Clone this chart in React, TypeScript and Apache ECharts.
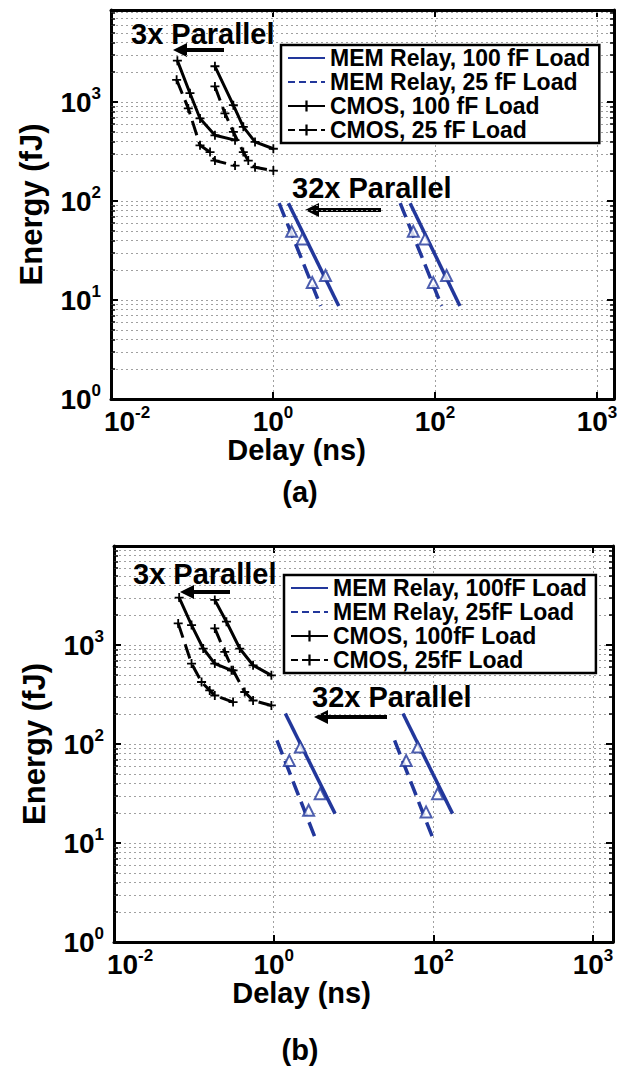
import React, { useEffect, useRef } from 'react';
import * as echarts from 'echarts';

// ---------- axis ticks ----------
const X_TICK_VALUES = [0.01, 1, 100, 10000];
const X_TICK_LABELS = ['-2', '0', '2', '3'];
const Y_TICK_VALUES = [1, 10, 100, 1000];
const Y_TICK_LABELS = ['0', '1', '2', '3'];

// ---------- legend names ----------
const A_NAMES = ['MEM Relay, 100 fF Load', 'MEM Relay, 25 fF Load', 'CMOS, 100 fF Load', 'CMOS, 25 fF Load'];
const B_NAMES = ['MEM Relay, 100fF Load', 'MEM Relay, 25fF Load', 'CMOS, 100fF Load', 'CMOS, 25fF Load'];

// ---------- plot (a) data: [delay ns, energy fJ] ----------
const A_CMOS100_1X = [[0.192, 2296], [0.324, 930], [0.43, 561], [0.6, 395], [1.01, 337]];
const A_CMOS100_3X = [[0.066, 2618], [0.0944, 1227], [0.1256, 682], [0.192, 461], [0.34, 412]];
const A_CMOS25_1X = [[0.192, 1436], [0.255, 767], [0.324, 499], [0.43, 312], [0.495, 256], [0.6, 219], [1.01, 203]];
const A_CMOS25_3X = [[0.0646, 1676], [0.09, 862], [0.1256, 365], [0.167, 312], [0.192, 256], [0.34, 228]];
const A_MEM100_32X = [[1.55, 95], [6.49, 8.7]];
const A_MEM100_1X = [[49.3, 95], [203, 8.7]];
const A_MEM25_32X = [[1.19, 95], [3.87, 8.7]];
const A_MEM25_1X = [[37.2, 95], [121, 8.7]];
const A_MEM_MARKS = [[1.7, 49.4], [2.3, 41.4], [4.45, 17.7], [3.05, 15], [54, 49.4], [75.4, 41.4], [139, 17.7], [95.3, 15]];

// ---------- plot (b) data ----------
const B_CMOS100_1X = [[0.183, 2851], [0.256, 1719], [0.376, 921], [0.552, 624], [0.936, 494]];
const B_CMOS100_3X = [[0.0655, 3013], [0.0936, 1589], [0.131, 921], [0.183, 649], [0.296, 555]];
const B_CMOS25_1X = [[0.183, 1472], [0.244, 853], [0.31, 555], [0.434, 335], [0.552, 275], [0.936, 245]];
const B_CMOS25_3X = [[0.0637, 1653], [0.0936, 649], [0.125, 423], [0.158, 348], [0.183, 309], [0.31, 265]];
const B_MEM100_32X = [[1.4, 203], [5.87, 19.8]];
const B_MEM100_1X = [[41.6, 203], [174, 19.8]];
const B_MEM25_32X = [[1.1, 109], [3.47, 10.2]];
const B_MEM25_1X = [[32.7, 109], [103, 10.2]];
const B_MEM_MARKS = [[2.16, 93], [3.82, 31.5], [1.57, 68], [2.74, 21.4], [63.8, 93], [113, 31.5], [45.7, 68], [81, 20.6]];

const FONT = "'Liberation Sans', Arial, Helvetica, sans-serif";
const BLUE = '#22379b';
const PLUS = 'path://M4,0H6V4H10V6H6V10H4V6H0V4H4Z';
const GRID_COLOR = '#a0a0a0';

const minorY = (max: number) => {
  const out: number[] = [];
  for (let d = 1; d <= 1000; d *= 10) {
    for (let k = 2; k <= 9; k++) {
      if (k * d < max) out.push(k * d);
    }
  }
  return out;
};

const richX = {
  b: { fontSize: 28, fontWeight: 'bold', fontFamily: FONT, color: '#000', lineHeight: 34 },
  b0: { fontSize: 28, fontWeight: 'bold', fontFamily: FONT, color: '#000', lineHeight: 34, padding: [0, 0, 0, 32] },
  s: { fontSize: 17, fontWeight: 'bold', fontFamily: FONT, color: '#000', lineHeight: 20, verticalAlign: 'top' },
};

const matchIdx = (vals: number[], v: number) =>
  vals.findIndex((t) => Math.abs(Math.log10(t) - Math.log10(v)) < 1e-6);

const xFormatter = (v: number) => {
  const i = matchIdx(X_TICK_VALUES, v);
  if (i < 0) return '';
  return `{${i === 0 ? 'b0' : 'b'}|10}{s|${X_TICK_LABELS[i]}}`;
};
const yFormatter = (v: number) => {
  const i = matchIdx(Y_TICK_VALUES, v);
  if (i < 0) return '';
  return `{b|10}{s|${Y_TICK_LABELS[i]}}`;
};

interface PlotCfg {
  left: number; top: number; width: number; height: number;
  xMax: number; yMax: number;
  names: string[];
  cmos100: number[][][]; cmos25: number[][][];
  mem100: number[][][]; mem25: number[][][];
  marks: number[][];
  legend: { left: number; top: number };
  xNameShift: number;
}

const PLOTS: PlotCfg[] = [
  {
    left: 111, top: 10, width: 503, height: 389, xMax: Math.pow(10, 4.21), yMax: 8500,
    names: A_NAMES,
    cmos100: [A_CMOS100_1X, A_CMOS100_3X], cmos25: [A_CMOS25_1X, A_CMOS25_3X],
    mem100: [A_MEM100_32X, A_MEM100_1X], mem25: [A_MEM25_32X, A_MEM25_1X],
    marks: A_MEM_MARKS,
    legend: { left: 281, top: 45 },
    xNameShift: 66,
  },
  {
    left: 114, top: 546, width: 499, height: 396, xMax: Math.pow(10, 4.25), yMax: 10000,
    names: B_NAMES,
    cmos100: [B_CMOS100_1X, B_CMOS100_3X], cmos25: [B_CMOS25_1X, B_CMOS25_3X],
    mem100: [B_MEM100_32X, B_MEM100_1X], mem25: [B_MEM25_32X, B_MEM25_1X],
    marks: B_MEM_MARKS,
    legend: { left: 284, top: 575 },
    xNameShift: 62,
  },
];

function buildOption() {
  const grid: any[] = [];
  const xAxis: any[] = [];
  const yAxis: any[] = [];
  const series: any[] = [];
  const legend: any[] = [];

  PLOTS.forEach((p, pi) => {
    grid.push({ left: p.left, top: p.top, width: p.width, height: p.height, containLabel: false });
    const axisLine = { show: true, lineStyle: { color: '#000', width: 3 } };
    const axisTick = { show: true, inside: true, length: 7, lineStyle: { color: '#000', width: 2 } };
    const split = { show: true, lineStyle: { color: GRID_COLOR, type: [2, 3], width: 1 } };
    xAxis.push({
      type: 'log', logBase: 100, gridIndex: pi, min: 0.01, max: p.xMax, position: 'bottom',
      axisLine, axisTick, splitLine: split,
      axisLabel: { formatter: xFormatter, rich: richX, margin: 5, showMinLabel: true, showMaxLabel: true, hideOverlap: false },
      name: 'Delay (ns)', nameLocation: 'middle', nameGap: 32,
      nameTextStyle: {
        fontSize: 29, fontWeight: 'bold', fontFamily: FONT, color: '#000', verticalAlign: 'top',
        padding: [0, p.xNameShift * 2, 0, 0],
      },
    });
    xAxis.push({
      type: 'log', logBase: 100, gridIndex: pi, min: 0.01, max: p.xMax, position: 'top',
      axisLine, axisTick, splitLine: { show: false }, axisLabel: { show: false },
    });
    yAxis.push({
      type: 'log', logBase: 10, gridIndex: pi, min: 1, max: p.yMax, position: 'left',
      axisLine, axisTick, splitLine: split,
      axisLabel: { formatter: yFormatter, rich: richX, margin: 10, showMinLabel: true, showMaxLabel: true, hideOverlap: false },
      name: 'Energy (fJ)', nameLocation: 'middle', nameGap: 64,
      nameTextStyle: { fontSize: 31, fontWeight: 'bold', fontFamily: FONT, color: '#000' },
    });
    yAxis.push({
      type: 'log', logBase: 10, gridIndex: pi, min: 1, max: p.yMax, position: 'right',
      axisLine, axisTick, splitLine: { show: false }, axisLabel: { show: false },
    });

    const xi = pi * 2;
    const yi = pi * 2;
    const minors = minorY(p.yMax);
    const tickFactor = Math.pow(10, 0.05);
    // minor grid lines
    series.push({
      type: 'line', name: `minor-${pi}`, xAxisIndex: xi, yAxisIndex: yi, data: [[1, 1]],
      showSymbol: false, symbol: 'none', lineStyle: { width: 0 }, z: 1, silent: true,
      markLine: {
        silent: true, symbol: 'none', z: 1, label: { show: false },
        lineStyle: { color: GRID_COLOR, type: [2, 3], width: 1 },
        data: minors.map((v) => ({ yAxis: v })),
      },
    });
    // minor ticks (inside, left and right)
    series.push({
      type: 'line', name: `minortick-${pi}`, xAxisIndex: xi, yAxisIndex: yi, data: [[1, 1]],
      showSymbol: false, symbol: 'none', lineStyle: { width: 0 }, z: 5, silent: true,
      markLine: {
        silent: true, symbol: 'none', z: 5, label: { show: false },
        lineStyle: { color: '#000', type: 'solid', width: 1.5 },
        data: minors.flatMap((v) => [
          [{ coord: [0.01, v] }, { coord: [0.01 * tickFactor, v] }],
          [{ coord: [p.xMax / tickFactor, v] }, { coord: [p.xMax, v] }],
        ]),
      },
    });
    const mk = (name: string, data: number[][], color: string, dashed: boolean, plus: boolean) => ({
      type: 'line', name, data, xAxisIndex: xi, yAxisIndex: yi,
      symbol: plus ? PLUS : 'none', symbolSize: 9, showSymbol: plus,
      lineStyle: { color, width: plus ? 3 : 3.5, type: dashed ? [15, 7] : 'solid' },
      itemStyle: { color },
      z: 3, silent: true,
    });
    p.mem100.forEach((d) => series.push(mk(p.names[0], d, BLUE, false, false)));
    p.mem25.forEach((d) => series.push(mk(p.names[1], d, BLUE, true, false)));
    p.cmos100.forEach((d) => series.push(mk(p.names[2], d, '#000', false, true)));
    p.cmos25.forEach((d) => series.push(mk(p.names[3], d, '#000', true, true)));
    series.push({
      type: 'scatter', name: `marks-${pi}`, xAxisIndex: xi, yAxisIndex: yi, data: p.marks,
      symbol: 'emptyTriangle', symbolSize: 11,
      itemStyle: { color: BLUE, borderWidth: 2 }, z: 4, silent: true,
    });

    legend.push({
      data: p.names.map((n, i) => ({
        name: n,
        itemStyle: i < 2 ? { opacity: 0, color: 'rgba(0,0,0,0)', borderWidth: 0 } : undefined,
        lineStyle: i % 2 === 1 ? { type: [7, 4], width: 2 } : { width: 2 },
      })),
      orient: 'vertical', left: p.legend.left, top: p.legend.top,
      backgroundColor: '#fff', borderColor: '#000', borderWidth: 2.5,
      padding: [1, 9, 1, 6], itemGap: 0, itemWidth: 37, itemHeight: 14,
      selectedMode: false, z: 8,
      textStyle: { fontSize: 23, fontWeight: 'bold', fontFamily: FONT, color: '#000', lineHeight: 24 },
    });
  });

  const txt = (text: string, x: number, y: number, align = 'left') => ({
    type: 'text', x, y, z: 10,
    style: { text, fill: '#000', font: `bold 29px ${FONT}`, align, verticalAlign: 'middle' },
  });
  const arrow = (x1: number, x2: number, y: number) => ({
    type: 'group', z: 10,
    children: [
      { type: 'line', shape: { x1, y1: y, x2: x2 + 10, y2: y }, style: { stroke: '#000', lineWidth: 4 } },
      { type: 'polygon', shape: { points: [[x2, y], [x2 + 14, y - 7], [x2 + 14, y + 7]] }, style: { fill: '#000' } },
    ],
  });

  const graphic = [
    txt('3x Parallel', 131, 34),
    arrow(224, 173, 50),
    txt('32x Parallel', 292, 188),
    arrow(381, 305, 210),
    txt('(a)', 300, 492, 'center'),
    txt('3x Parallel', 133, 574),
    arrow(230, 180, 592),
    txt('32x Parallel', 312, 697),
    arrow(387, 314, 717),
    txt('(b)', 300, 1050, 'center'),
  ];

  return {
    animation: false,
    backgroundColor: '#fff',
    grid, xAxis, yAxis, series, legend, graphic,
  };
}

export default function App() {
  const ref = useRef<HTMLDivElement>(null);
  useEffect(() => {
    if (!ref.current) return;
    const chart = echarts.init(ref.current, undefined, { renderer: 'svg' });
    chart.setOption(buildOption() as any);
    return () => chart.dispose();
  }, []);
  return (
    <div
      ref={ref}
      style={{ position: 'absolute', left: 0, top: 0, width: 624, height: 1076, background: '#fff' }}
    />
  );
}
